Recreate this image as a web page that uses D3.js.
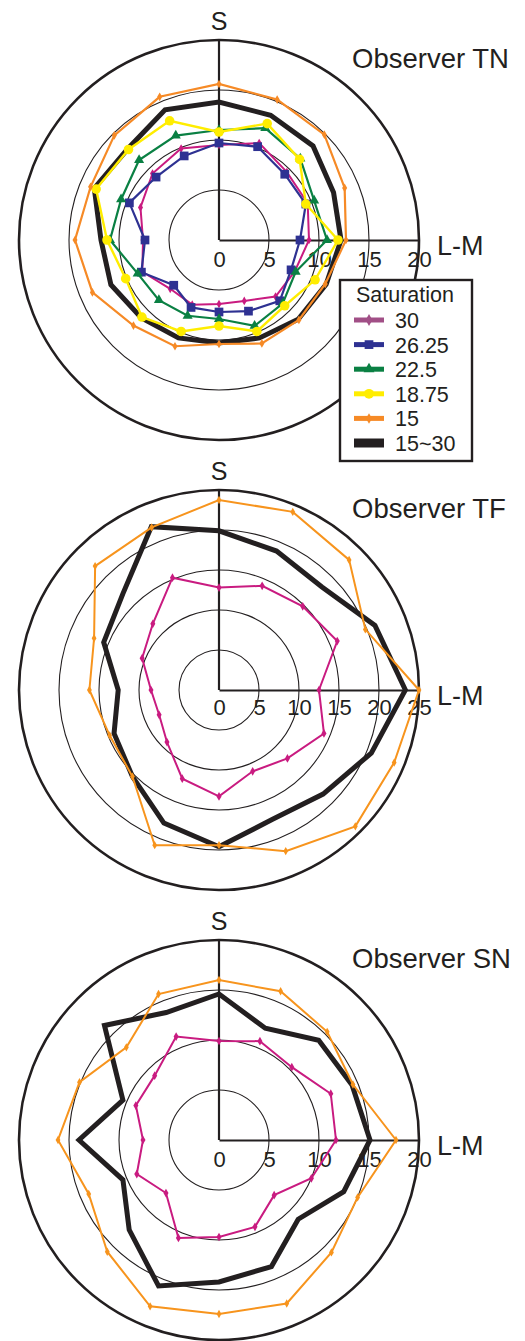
<!DOCTYPE html>
<html>
<head>
<meta charset="utf-8">
<script src="https://cdn.jsdelivr.net/npm/d3@7"></script>
<style>
  body { margin: 0; background: #fff; }
  text { font-family: "Liberation Sans", Arial, Helvetica, sans-serif; fill: #231f20; }
</style>
</head>
<body>
<svg id="chart" width="525" height="1341"></svg>
<script>
// Hue directions in the (L-M, S) plane, degrees counter-clockwise from +L-M
const directions = [0, 22.5, 45, 67.5, 90, 112.5, 135, 157.5, 180, 202.5, 225, 247.5, 270, 292.5, 315, 337.5];

// Observer TN: threshold radius per direction, by saturation level
const tnSat30    = [9.0, 9.6, 9.6, 10.5, 9.5, 9.9, 9.4, 8.5, 7.6, 8.3, 6.9, 7.0, 6.4, 6.6, 8.0, 8.2];
const tnSat2625  = [8.1, 9.4, 9.3, 10.1, 9.7, 9.1, 8.9, 9.7, 7.4, 8.4, 6.4, 7.3, 7.2, 7.7, 8.6, 7.8];
const tnSat225   = [10.8, 10.3, 11.5, 12.1, 11.0, 11.3, 11.3, 10.6, 10.9, 8.8, 8.5, 8.2, 7.9, 9.3, 9.0, 8.3];
const tnSat1875  = [11.9, 9.4, 11.4, 12.6, 10.8, 12.9, 12.8, 13.3, 11.2, 10.1, 10.9, 9.9, 8.6, 9.9, 9.3, 10.4];
const tnSat15    = [12.7, 13.6, 14.9, 15.2, 15.6, 15.5, 14.8, 13.9, 14.4, 13.7, 12.1, 11.5, 10.4, 11.2, 11.3, 11.5];
const tnSatAll   = [12.2, 12.4, 13.3, 13.5, 13.8, 14.1, 12.9, 13.5, 11.8, 11.7, 11.0, 10.6, 10.3, 10.6, 11.2, 11.6];

// Observer TF
const tfSat30    = [12.5, 16.0, 14.8, 14.1, 12.8, 15.2, 11.7, 10.4, 8.5, 8.1, 9.2, 12.0, 13.3, 11.0, 12.1, 14.2];
const tfSat15    = [25.0, 19.8, 23.0, 24.1, 23.75, 22.0, 21.9, 16.9, 16.2, 14.8, 15.3, 21.0, 19.4, 21.8, 24.1, 23.7];
const tfSatAll   = [23.3, 21.1, 18.2, 18.8, 19.9, 22.1, 17.0, 15.6, 12.6, 14.2, 15.3, 18.0, 19.6, 17.5, 18.4, 20.6];

// Observer SN
const snSat30    = [11.7, 12.1, 10.3, 10.7, 9.9, 11.2, 9.1, 9.0, 7.6, 8.9, 7.5, 10.6, 9.7, 9.4, 7.8, 10.0];
const snSat15    = [17.7, 14.5, 15.3, 16.1, 16.0, 15.8, 13.1, 15.1, 16.1, 14.1, 15.8, 18.0, 17.4, 17.7, 15.9, 15.0];
const snSatAll   = [15.1, 14.4, 14.1, 12.1, 14.6, 13.8, 16.2, 10.4, 14.0, 10.4, 12.7, 15.8, 14.2, 13.7, 11.2, 13.5];

// Radial tick labels along the L-M axis
const ticks20 = [0, 5, 10, 15, 20];
const ticks25 = [0, 5, 10, 15, 20, 25];

// Legend entries
const legendLabels = ["30", "26.25", "22.5", "18.75", "15", "15~30"];

const INK = "#231f20";
const MAGENTA = "#c91b80";
const BLUE = "#2e3192";
const GREEN = "#0a8043";
const YELLOW = "#ffed00";
const ORANGE_TN = "#f68a26";
const ORANGE = "#f7941d";

const styles = {
  all:    { color: INK, width: 5, symbol: null },
  s30:    { color: MAGENTA, width: 2, symbol: d3.symbolDiamond, size: 22 },
  s2625:  { color: BLUE, width: 2.2, symbol: d3.symbolSquare, size: 76 },
  s225:   { color: GREEN, width: 2.2, symbol: d3.symbolTriangle, size: 44 },
  s1875:  { color: YELLOW, width: 2.4, symbol: d3.symbolCircle, size: 72 },
  s15tn:  { color: ORANGE_TN, width: 2.2, symbol: d3.symbolDiamond, size: 22 },
  s15:    { color: ORANGE, width: 2, symbol: d3.symbolDiamond, size: 20 }
};

const panels = [
  { title: "Observer TN", cy: 240, max: 20, ticks: ticks20, labelDy: 27,
    series: [
      { values: tnSatAll, style: styles.all },
      { values: tnSat30, style: styles.s30 },
      { values: tnSat2625, style: styles.s2625 },
      { values: tnSat225, style: styles.s225 },
      { values: tnSat1875, style: styles.s1875 },
      { values: tnSat15, style: styles.s15tn }
    ], legend: true },
  { title: "Observer TF", cy: 690, max: 25, ticks: ticks25, labelDy: 25,
    series: [
      { values: tfSatAll, style: styles.all },
      { values: tfSat30, style: styles.s30 },
      { values: tfSat15, style: styles.s15 }
    ] },
  { title: "Observer SN", cy: 1140, max: 20, ticks: ticks20, labelDy: 27,
    series: [
      { values: snSatAll, style: styles.all },
      { values: snSat30, style: styles.s30 },
      { values: snSat15, style: styles.s15 }
    ] }
];

const svg = d3.select("#chart");
const CX = 219, R = 200;
const rad = d => d * Math.PI / 180;

panels.forEach(p => {
  const g = svg.append("g").attr("transform", `translate(${CX},${p.cy})`);
  const r = d3.scaleLinear().domain([0, p.max]).range([0, R]);

  // Grid rings: thin inner rings, heavy outer ring
  g.selectAll("circle.ring")
    .data(p.ticks.filter(t => t > 0))
    .join("circle")
    .attr("class", "ring")
    .attr("r", d => r(d))
    .attr("fill", "none")
    .attr("stroke", INK)
    .attr("stroke-width", d => d === p.max ? 2.6 : 1.1);

  // S axis (vertical)
  g.append("line")
    .attr("x1", 0).attr("y1", 0)
    .attr("x2", 0).attr("y2", -r(p.max))
    .attr("stroke", INK).attr("stroke-width", 2.2);

  // L-M axis with tick labels
  const axis = g.append("g")
    .attr("color", INK)
    .call(d3.axisBottom(r).tickValues(p.ticks).tickSize(0).tickSizeOuter(0).tickPadding(p.labelDy - 15.5).tickFormat(d3.format("d")));
  axis.select(".domain").attr("stroke-width", 2.2);
  axis.selectAll("text")
    .attr("font-size", 22)
    .attr("font-family", "\"Liberation Sans\", Arial, Helvetica, sans-serif")
    .attr("fill", INK);

  // Series polygons and their markers
  const line = d3.lineRadial()
    .angle((d, i) => rad(90 - directions[i]))
    .radius(d => r(d))
    .curve(d3.curveLinearClosed);

  p.series.forEach(s => {
    g.append("path")
      .datum(s.values)
      .attr("d", line)
      .attr("fill", "none")
      .attr("stroke", s.style.color)
      .attr("stroke-width", s.style.width)
      .attr("stroke-linejoin", "miter");
    if (s.style.symbol) {
      g.selectAll(null)
        .data(s.values)
        .join("path")
        .attr("d", d3.symbol().type(s.style.symbol).size(s.style.size))
        .attr("transform", (d, i) => {
          const a = rad(directions[i]);
          return `translate(${r(d) * Math.cos(a)},${-r(d) * Math.sin(a)})`;
        })
        .attr("fill", s.style.color);
    }
  });

  // Axis names and title
  g.append("text").attr("x", 0).attr("y", -210)
    .attr("text-anchor", "middle").attr("font-size", 25).text("S");
  g.append("text").attr("x", 218).attr("y", 15)
    .attr("font-size", 27).text("L-M");
  g.append("text").attr("x", 133).attr("y", -172)
    .attr("font-size", 27.5).text(p.title);

  if (p.legend) {
    const lg = svg.append("g").attr("transform", "translate(340,280)");
    lg.append("rect")
      .attr("width", 132).attr("height", 181)
      .attr("fill", "#fff").attr("stroke", INK).attr("stroke-width", 2.4);
    lg.append("text").attr("x", 65).attr("y", 21.5)
      .attr("text-anchor", "middle").attr("font-size", 21.5).text("Saturation");
    const legendStyles = [
      { color: "#a14f86", symbol: d3.symbolDiamond, size: 40, width: 5 },
      { color: BLUE, symbol: d3.symbolSquare, size: 76, width: 5 },
      { color: GREEN, symbol: d3.symbolTriangle, size: 52, width: 5 },
      { color: YELLOW, symbol: d3.symbolCircle, size: 76, width: 5 },
      { color: ORANGE_TN, symbol: d3.symbolDiamond, size: 32, width: 5 },
      { color: INK, symbol: null, width: 9 }
    ];
    const rows = lg.selectAll("g.row")
      .data(legendLabels)
      .join("g")
      .attr("class", "row")
      .attr("transform", (d, i) => `translate(0,${40 + i * 24.6})`);
    rows.append("line")
      .attr("x1", 14).attr("x2", 44).attr("y1", 0).attr("y2", 0)
      .attr("stroke", (d, i) => legendStyles[i].color)
      .attr("stroke-width", (d, i) => legendStyles[i].width);
    rows.filter((d, i) => legendStyles[i].symbol)
      .append("path")
      .attr("d", d => d3.symbol().type(legendStyles[legendLabels.indexOf(d)].symbol).size(legendStyles[legendLabels.indexOf(d)].size)())
      .attr("transform", "translate(29,0)")
      .attr("fill", d => legendStyles[legendLabels.indexOf(d)].color);
    rows.append("text")
      .attr("x", 55).attr("y", 8)
      .attr("font-size", 21.5)
      .text(d => d);
  }
});
</script>
</body>
</html>
